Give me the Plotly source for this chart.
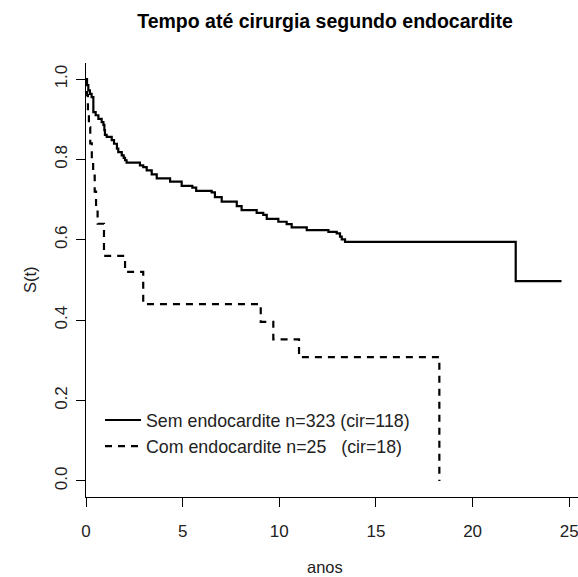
import plotly.graph_objects as go

# Kaplan-Meier estimates (step functions)
sem_t = [0, 0.05, 0.12, 0.2, 0.29, 0.38, 0.5, 0.64, 0.81, 0.9, 0.95, 0.98, 1.07, 1.33,
         1.45, 1.6, 1.67, 1.85, 1.95, 2.02, 2.1, 2.79, 2.96, 3.14, 3.4, 3.66, 4.35, 4.95,
         5.5, 5.7, 6.5, 6.67, 7.02, 7.8, 8.05, 8.83, 9.17, 9.35, 9.95, 10.38, 10.64,
         11.42, 12.54, 12.97, 13.14, 13.23, 13.4, 22.23, 24.6]
sem_s = [1.0, 0.985, 0.972, 0.963, 0.955, 0.918, 0.91, 0.901, 0.893, 0.886, 0.873, 0.861,
         0.856, 0.848, 0.839, 0.827, 0.818, 0.81, 0.804, 0.798, 0.792, 0.785, 0.781, 0.773,
         0.763, 0.753, 0.745, 0.734, 0.73, 0.722, 0.718, 0.706, 0.695, 0.684, 0.674, 0.667,
         0.662, 0.652, 0.645, 0.639, 0.631, 0.624, 0.62, 0.616, 0.608, 0.601, 0.595, 0.497,
         0.497]

com_t = [0, 0.05, 0.1, 0.15, 0.22, 0.3, 0.37, 0.45, 0.52, 0.6, 0.93, 2.02, 2.96, 9.04,
         9.69, 11.02, 18.28]
com_s = [1.0, 0.96, 0.92, 0.88, 0.84, 0.80, 0.76, 0.72, 0.68, 0.64, 0.56, 0.52, 0.44,
         0.396, 0.352, 0.308, 0.0]

legend_names = ["Sem endocardite n=323 (cir=118)",
                "Com endocardite n=25\u00a0\u00a0\u00a0(cir=18)"]
x_ticks = [0, 5, 10, 15, 20, 25]
y_ticks = [0.0, 0.2, 0.4, 0.6, 0.8, 1.0]
y_ticklabels = ["0.0", "0.2", "0.4", "0.6", "0.8", "1.0"]

FONT = "Liberation Sans, Arial, sans-serif"

fig = go.Figure()
fig.add_trace(go.Scatter(x=sem_t, y=sem_s, mode="lines", line_shape="hv",
                         line=dict(color="black", width=2.2), name=legend_names[0]))
fig.add_trace(go.Scatter(x=com_t, y=com_s, mode="lines", line_shape="hv",
                         line=dict(color="black", width=2.2, dash="7px,6px"),
                         name=legend_names[1]))

fig.update_layout(
    width=578, height=577,
    margin=dict(l=86, r=0, t=63, b=80),
    paper_bgcolor="white", plot_bgcolor="white",
    font=dict(family=FONT, size=17, color="black"),
    title=dict(text="<b>Tempo até cirurgia segundo endocardite</b>",
               x=(325 - 86) / 492, xref="paper", xanchor="center",
               y=1 - 21 / 577, yref="container", yanchor="middle",
               font=dict(size=19.5, family=FONT, color="black")),
    showlegend=True,
    legend=dict(x=(100 - 86) / 492, y=0.219, xanchor="left", yanchor="top",
                bgcolor="rgba(0,0,0,0)", font=dict(size=17.8, family=FONT, color="#222"),
                itemwidth=36, tracegroupgap=0),
    xaxis=dict(range=[0, 492 / 19.33], showgrid=False, zeroline=False,
               showline=True, linecolor="black", linewidth=1,
               ticks="outside", ticklen=9, tickcolor="black", tickwidth=1,
               tickvals=x_ticks, ticktext=[str(v) for v in x_ticks],
               ticklabelstandoff=10, ticklabeloverflow="allow",
               tickfont=dict(size=17, color="#222")),
    yaxis=dict(range=[-0.04, 1.04], showgrid=False, zeroline=False,
               showline=True, linecolor="black", linewidth=1,
               ticks="outside", ticklen=9, tickcolor="black", tickwidth=1,
               tickvals=y_ticks, ticktext=y_ticklabels, tickangle=-90,
               ticklabelstandoff=2, tickfont=dict(size=17, color="#222")),
    annotations=[
        dict(text="S(t)", x=(30 - 86) / 492, xref="paper", y=0.5, yref="paper",
             showarrow=False, textangle=-90,
             font=dict(size=16.5, family=FONT, color="#222"),
             xanchor="center", yanchor="middle"),
        dict(text="anos", x=(325 - 86) / 492, xref="paper", y=(497 - 567) / 434,
             yref="paper", showarrow=False,
             font=dict(size=16.5, family=FONT, color="#222"),
             xanchor="center", yanchor="middle"),
    ],
)

fig.write_html("out.html")
